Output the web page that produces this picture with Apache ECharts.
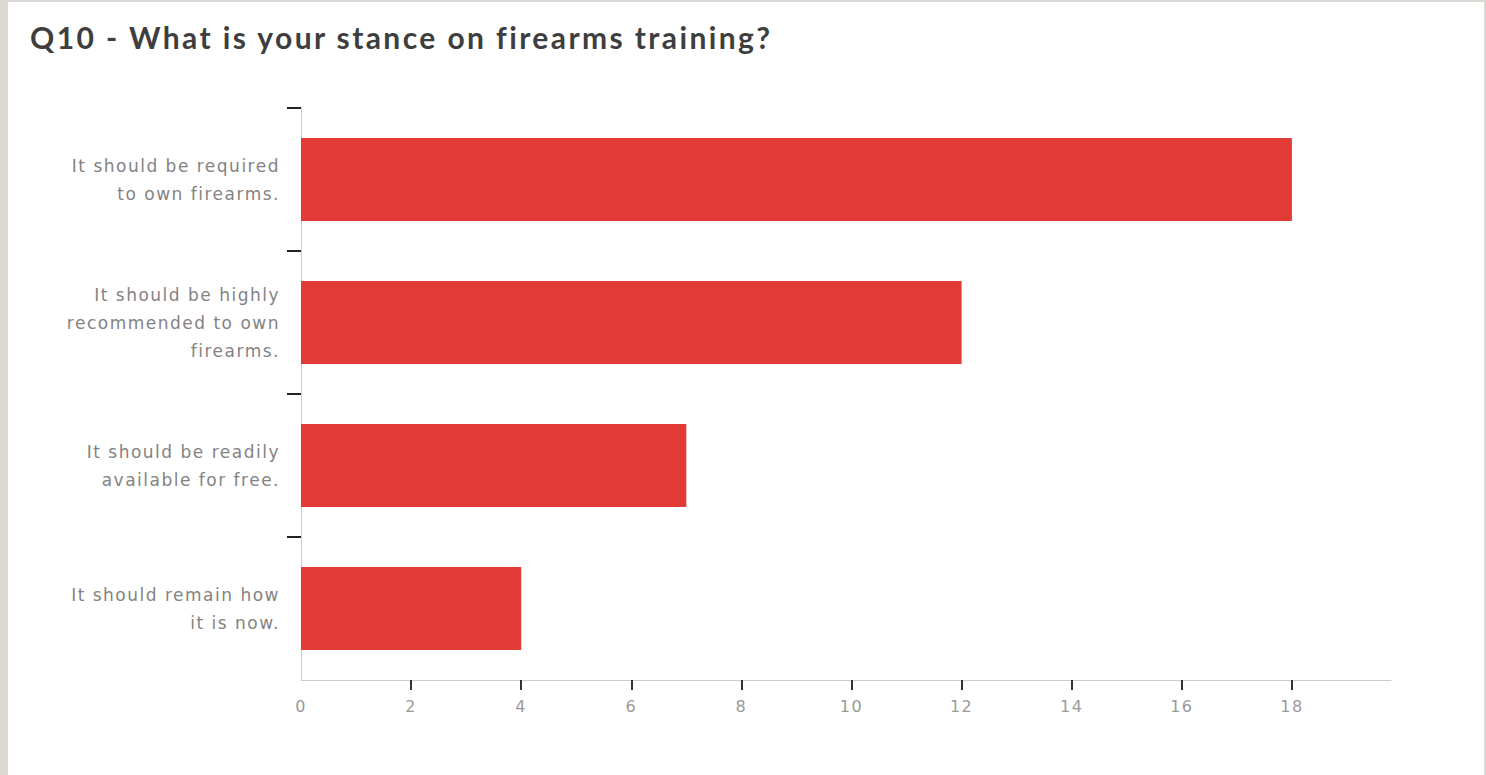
<!DOCTYPE html>
<html>
<head>
<meta charset="utf-8">
<script src="https://cdn.jsdelivr.net/npm/echarts@6/dist/echarts.min.js"></script>
<style>
  html, body { margin: 0; padding: 0; width: 1486px; height: 775px; background: #dcd9d4; overflow: hidden; }
  #chart { position: absolute; left: 8px; top: 2px; width: 1476px; height: 773px; background: #ffffff; }
  #chart svg text[style*="DejaVu"] { letter-spacing: 1.5px; }
  #chart svg text[style*="Lato"] { letter-spacing: 2.4px; }
</style>
</head>
<body>
<div id="chart"></div>
<script>
// Data (top-to-bottom order as shown in the chart)
const titleText = 'Q10 - What is your stance on firearms training?';
const categories = [
  'It should be required\nto own firearms.',
  'It should be highly\nrecommended to own\nfirearms.',
  'It should be readily\navailable for free.',
  'It should remain how\nit is now.'
];
const counts = [18, 12, 7, 4];
const xTickLabels = [0, 2, 4, 6, 8, 10, 12, 14, 16, 18];
const xTickMarks = [2, 4, 6, 8, 10, 12, 14, 16, 18];

// Category axis draws bottom-up, so reverse for display
const axisCats = categories.slice().reverse();
const axisVals = counts.slice().reverse();

const chart = echarts.init(document.getElementById('chart'), null, { renderer: 'svg' });
chart.setOption({
  animation: false,
  backgroundColor: '#ffffff',
  title: {
    text: titleText,
    left: 17,
    top: 15,
    textStyle: { fontFamily: 'Lato', fontWeight: 'bold', fontSize: 30, color: '#3e3e3e' }
  },
  grid: { left: 293, right: 93, top: 106, bottom: 95, containLabel: false },
  xAxis: {
    type: 'value',
    min: 0,
    max: 19.8,
    splitLine: { show: false },
    axisLine: { show: true, lineStyle: { color: '#cccccc', width: 1 } },
    axisTick: { show: true, customValues: xTickMarks, length: 10, lineStyle: { color: '#333333', width: 2 } },
    axisLabel: { customValues: xTickLabels, color: '#999999', fontFamily: 'DejaVu Sans', fontSize: 16, margin: 18 }
  },
  yAxis: {
    type: 'category',
    data: axisCats,
    axisLine: { show: true, lineStyle: { color: '#cccccc', width: 1 } },
    axisTick: { show: true, interval: function (i) { return i > 0; }, length: 14, lineStyle: { color: '#222222', width: 2 } },
    axisLabel: { color: '#838383', fontFamily: 'DejaVu Sans', fontSize: 17, lineHeight: 28, margin: 21, align: 'right' },
    splitLine: { show: false }
  },
  series: [{
    type: 'bar',
    data: axisVals,
    barWidth: 83,
    itemStyle: { color: '#e23a36' }
  }]
});
</script>
</body>
</html>
